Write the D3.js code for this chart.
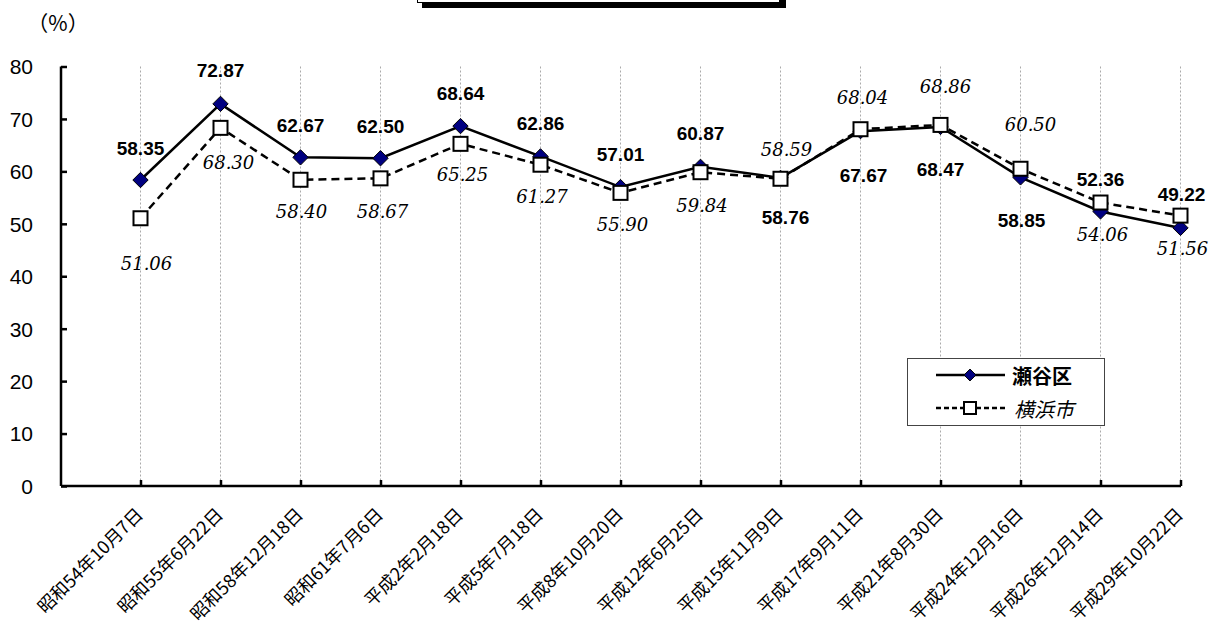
<!DOCTYPE html>
<html><head><meta charset="utf-8">
<script src="https://cdn.jsdelivr.net/npm/d3@7"></script>
<style>body{margin:0;background:#fff}svg{display:block}</style>
</head><body>
<script>
// ---- data ----
const categories = ["昭和54年10月7日","昭和55年6月22日","昭和58年12月18日","昭和61年7月6日","平成2年2月18日","平成5年7月18日","平成8年10月20日","平成12年6月25日","平成15年11月9日","平成17年9月11日","平成21年8月30日","平成24年12月16日","平成26年12月14日","平成29年10月22日"];
const seyaValues = [58.35,72.87,62.67,62.50,68.64,62.86,57.01,60.87,58.76,67.67,68.47,58.85,52.36,49.22];
const yokohamaValues = [51.06,68.30,58.40,58.67,65.25,61.27,55.90,59.84,58.59,68.04,68.86,60.50,54.06,51.56];
const yTicks = [0,10,20,30,40,50,60,70,80];
const seriesNames = ["瀬谷区","横浜市"];

// ---- label placement (style, not data) ----
const seyaLabelDx = [0,0,0,0,0,0,0,0,5,3,0,1,0,1];
const seyaLabelDy = [-32,-33,-32,-32,-33,-33,-33,-33,40,44,43,43,-32,-33];
const yokoLabelDx = [6,8,1,2,2,1.5,2,1.5,6,2,5,10,2,2];
const yokoLabelDy = [45,35,32,33,31,32,32,33,-29,-32,-38,-44,32,33];

const W = 1209, H = 625;
const svg = d3.select("body").append("svg").attr("width", W).attr("height", H);

const x = d3.scalePoint().domain(categories).range([140.5, 1180.5]);
const y = d3.scaleLinear().domain([0, 80]).range([486, 66.5]);
const axisLeft = 61, axisRight = 1181;

// title box (cropped at top)
svg.append("rect").attr("x", 422).attr("y", -20).attr("width", 364).attr("height", 28).attr("fill", "#000");
svg.append("rect").attr("x", 417.5).attr("y", -20).attr("width", 362).attr("height", 22.5)
  .attr("fill", "#fff").attr("stroke", "#000").attr("stroke-width", 1);

// unit label
svg.append("text").attr("x", 58).attr("y", 22).attr("text-anchor", "middle").attr("dominant-baseline", "central")
  .style("font-family", "'Noto Sans CJK JP', sans-serif").style("font-size", "21px").text("（%）");

// vertical gridlines
svg.append("g").selectAll("line").data(categories).join("line")
  .attr("x1", d => x(d)).attr("x2", d => x(d)).attr("y1", y(80)).attr("y2", y(0))
  .attr("stroke", "#aaa").attr("stroke-width", 1).attr("stroke-dasharray", "2,2");

// y axis
const gy = svg.append("g").attr("transform", `translate(${axisLeft},0)`)
  .call(d3.axisRight(y).tickValues(yTicks).tickSize(6).tickFormat(d3.format("d")));
gy.select(".domain").attr("stroke", "#000").attr("stroke-width", 2.5).attr("d", `M0,${y(80)}V${y(0)}`);
gy.selectAll(".tick line").attr("stroke", "#000").attr("stroke-width", 2.5);
gy.selectAll(".tick text").attr("x", -28).attr("text-anchor", "end").attr("dy", "0.35em")
  .style("font-family", "'Liberation Sans', Arial, sans-serif").style("font-size", "21px").attr("fill", "#000");

// x axis
const gx = svg.append("g").attr("transform", `translate(0,${y(0)})`)
  .call(d3.axisTop(x).tickSize(6).tickFormat(""));
gx.select(".domain").attr("stroke", "#000").attr("stroke-width", 2.5).attr("d", `M${axisLeft},0H${axisRight}`);
gx.selectAll(".tick line").attr("stroke", "#000").attr("stroke-width", 2.5);

// x labels rotated
svg.append("g").selectAll("text").data(categories).join("text")
  .attr("transform", d => `translate(${x(d) - 2},${y(0) + 24}) rotate(-45)`)
  .attr("text-anchor", "end").attr("dominant-baseline", "central")
  .style("font-family", "'Noto Sans CJK JP', sans-serif").style("font-size", "18px").attr("fill", "#000")
  .text(d => d);

// lines
const line = d3.line().x((d, i) => x(categories[i])).y(d => y(d));
svg.append("path").datum(yokohamaValues).attr("d", line).attr("fill", "none")
  .attr("stroke", "#000").attr("stroke-width", 2.5).attr("stroke-dasharray", "8,5");
svg.append("path").datum(seyaValues).attr("d", line).attr("fill", "none")
  .attr("stroke", "#000").attr("stroke-width", 2.5);

// markers
const diamond = d3.symbol().type(d3.symbolDiamond2).size(150);
svg.append("g").selectAll("path").data(seyaValues).join("path")
  .attr("d", diamond).attr("transform", (d, i) => `translate(${x(categories[i])},${y(d)})`)
  .attr("fill", "#000080").attr("stroke", "#000").attr("stroke-width", 1);
svg.append("g").selectAll("rect").data(yokohamaValues).join("rect")
  .attr("x", (d, i) => x(categories[i]) - 7).attr("y", d => y(d) - 7)
  .attr("width", 14).attr("height", 14)
  .attr("fill", "#fff").attr("stroke", "#000").attr("stroke-width", 2);

// data labels
svg.append("g").selectAll("text").data(seyaValues).join("text")
  .attr("x", (d, i) => x(categories[i]) + seyaLabelDx[i]).attr("y", (d, i) => y(d) + seyaLabelDy[i])
  .attr("text-anchor", "middle").attr("dominant-baseline", "central")
  .style("font-family", "'Liberation Sans', Arial, sans-serif").style("font-size", "19px").style("font-weight", "bold")
  .text(d => d.toFixed(2));
svg.append("g").selectAll("text").data(yokohamaValues).join("text")
  .attr("x", (d, i) => x(categories[i]) + yokoLabelDx[i]).attr("y", (d, i) => y(d) + yokoLabelDy[i])
  .attr("text-anchor", "middle").attr("dominant-baseline", "central")
  .style("font-family", "'DejaVu Serif', serif").style("font-size", "18px").style("font-style", "italic")
  .text(d => d.toFixed(2));

// legend
const lg = svg.append("g");
lg.append("rect").attr("x", 907.5).attr("y", 358.5).attr("width", 197).attr("height", 67)
  .attr("fill", "#fff").attr("stroke", "#444").attr("stroke-width", 1);
lg.append("line").attr("x1", 936).attr("x2", 1005).attr("y1", 375).attr("y2", 375).attr("stroke", "#000").attr("stroke-width", 2.5);
lg.append("path").attr("d", d3.symbol().type(d3.symbolDiamond2).size(90)).attr("transform", "translate(970,375)")
  .attr("fill", "#000080").attr("stroke", "#000").attr("stroke-width", 1);
lg.append("text").attr("x", 1012).attr("y", 375).attr("dominant-baseline", "central")
  .style("font-family", "'Noto Sans CJK JP', sans-serif").style("font-size", "20px").style("font-weight", "bold")
  .text(seriesNames[0]);
lg.append("line").attr("x1", 936).attr("x2", 1005).attr("y1", 408).attr("y2", 408).attr("stroke", "#000").attr("stroke-width", 2.5).attr("stroke-dasharray", "5,3");
lg.append("rect").attr("x", 964).attr("y", 402).attr("width", 12).attr("height", 12)
  .attr("fill", "#fff").attr("stroke", "#000").attr("stroke-width", 2);
lg.append("text").attr("x", 1014).attr("y", 408).attr("dominant-baseline", "central")
  .style("font-family", "'Noto Sans CJK JP', sans-serif").style("font-size", "20px").style("font-style", "italic")
  .text(seriesNames[1]);
</script>
</body></html>
